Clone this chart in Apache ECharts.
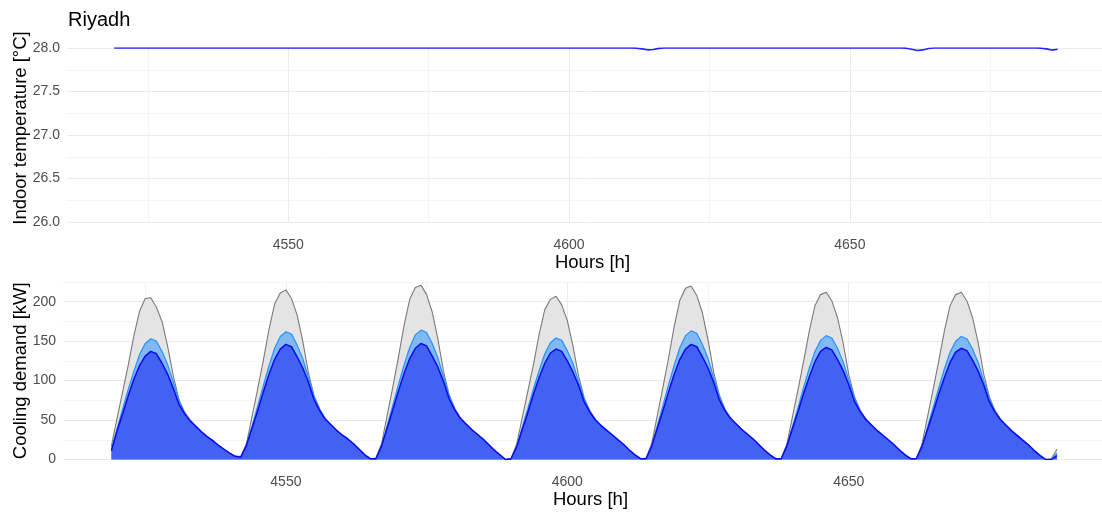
<!DOCTYPE html>
<html>
<head>
<meta charset="utf-8">
<script src="https://cdn.jsdelivr.net/npm/echarts@6/dist/echarts.min.js"></script>
<style>
  html, body { margin: 0; padding: 0; background: #ffffff; }
  #chart { width: 1102px; height: 518px; }
</style>
</head>
<body>
<div id="chart"></div>
<script>
// Hourly simulation output for Riyadh, hours 4519 .. 4687
const firstHour = 4519;

// Indoor air temperature [°C], twelve hours per row
const indoorTemp = [
  28, 28, 28, 28, 28, 28,   28, 28, 28, 28, 28, 28,          // 4519-4530
  28, 28, 28, 28, 28, 28,   28, 28, 28, 28, 28, 28,          // 4531-4542
  28, 28, 28, 28, 28, 28,   28, 28, 28, 28, 28, 28,          // 4543-4554
  28, 28, 28, 28, 28, 28,   28, 28, 28, 28, 28, 28,          // 4555-4566
  28, 28, 28, 28, 28, 28,   28, 28, 28, 28, 28, 28,          // 4567-4578
  28, 28, 28, 28, 28, 28,   28, 28, 28, 28, 28, 28,          // 4579-4590
  28, 28, 28, 28, 28, 28,   28, 28, 28, 28, 28, 28,          // 4591-4602
  28, 28, 28, 28, 28, 28,   28, 28, 28, 27.998, 27.99, 27.979, // 4603-4614
  27.982, 27.996, 28, 28, 28, 28,   28, 28, 28, 28, 28, 28,  // 4615-4626
  28, 28, 28, 28, 28, 28,   28, 28, 28, 28, 28, 28,          // 4627-4638
  28, 28, 28, 28, 28, 28,   28, 28, 28, 28, 28, 28,          // 4639-4650
  28, 28, 28, 28, 28, 28,   28, 28, 28, 27.998, 27.986, 27.972, // 4651-4662
  27.978, 27.995, 28, 28, 28, 28,   28, 28, 28, 28, 28, 28,  // 4663-4674
  28, 28, 28, 28, 28, 28,   28, 28, 28, 27.998, 27.99, 27.976, // 4675-4686
  27.985                                                     // 4687
];

// Cooling demand [kW] – three cases, drawn back to front
const coolingGrey = [
  17, 52, 86, 120, 157, 188, 204, 205, 193, 175, 143, 106, 76, 60, 50, 42, 35, 29, 24, 18, 13, 8,
  4, 4, 20, 55, 90, 126, 165, 197, 211, 215, 204, 183, 150, 110, 81, 64, 52, 44, 37, 31, 26, 20, 13, 6,
  1, 2, 20, 56, 92, 130, 170, 203, 218, 221, 209, 187, 153, 112, 82, 65, 53, 45, 38, 32, 26, 19, 12, 6,
  0, 1, 19, 53, 87, 121, 159, 190, 203, 207, 196, 176, 144, 106, 78, 62, 51, 43, 37, 31, 25, 19, 12, 6,
  1, 2, 20, 56, 92, 129, 169, 202, 217, 220, 208, 186, 152, 111, 82, 64, 53, 45, 38, 32, 26, 19, 12, 6,
  1, 1, 19, 54, 89, 125, 163, 195, 209, 212, 201, 180, 148, 108, 80, 63, 52, 44, 37, 31, 25, 19, 12, 6,
  1, 1, 19, 54, 89, 125, 163, 195, 209, 212, 201, 180, 148, 108, 79, 62, 51, 43, 36, 30, 24, 18, 11, 5,
  0, 1, 13
];
const coolingLight = [
  13, 39, 64, 89, 112, 133, 147, 153, 150, 137, 120, 98, 74, 59, 49, 42, 35, 29, 24, 18, 13, 8,
  4, 3, 19, 43, 68, 94, 119, 141, 156, 162, 159, 145, 128, 104, 80, 64, 51, 44, 37, 31, 26, 20, 13, 6,
  1, 1, 18, 43, 69, 95, 120, 142, 158, 164, 161, 147, 129, 105, 81, 64, 52, 45, 38, 32, 26, 19, 12, 6,
  0, 1, 17, 41, 65, 90, 113, 134, 148, 154, 151, 138, 122, 99, 77, 61, 50, 43, 37, 31, 25, 19, 12, 6,
  1, 1, 18, 43, 69, 95, 120, 142, 157, 163, 160, 146, 128, 104, 80, 63, 52, 45, 38, 32, 26, 19, 12, 6,
  1, 1, 18, 42, 66, 92, 116, 137, 151, 157, 154, 141, 124, 101, 78, 62, 51, 44, 37, 31, 25, 19, 12, 6,
  1, 1, 17, 41, 66, 91, 115, 136, 150, 156, 153, 140, 123, 100, 77, 61, 50, 43, 36, 30, 24, 18, 11, 5,
  0, 0, 8
];
const coolingBlue = [
  11, 36, 58, 81, 102, 119, 131, 137, 134, 122, 108, 90, 70, 58, 49, 42, 35, 29, 24, 18, 13, 8,
  4, 3, 18, 40, 62, 86, 108, 127, 140, 146, 143, 130, 116, 98, 76, 62, 51, 44, 37, 31, 26, 20, 13, 6,
  1, 1, 17, 40, 63, 87, 109, 128, 141, 147, 144, 131, 117, 99, 77, 63, 52, 45, 38, 32, 26, 19, 12, 6,
  0, 1, 16, 38, 60, 83, 104, 122, 135, 140, 137, 125, 111, 94, 73, 60, 50, 43, 37, 31, 25, 19, 12, 6,
  1, 1, 17, 40, 62, 86, 108, 127, 140, 146, 143, 130, 116, 98, 76, 62, 52, 45, 38, 32, 26, 19, 12, 6,
  1, 1, 17, 39, 61, 84, 105, 124, 137, 142, 139, 127, 113, 95, 74, 61, 51, 44, 37, 31, 25, 19, 12, 6,
  1, 1, 16, 38, 60, 83, 104, 123, 136, 141, 138, 126, 112, 94, 73, 60, 50, 43, 36, 30, 24, 18, 11, 5,
  0, 0, 5
];

// Axis ticks
const hourLabels = [4550, 4600, 4650];
const hourGrid = [4525, 4550, 4575, 4600, 4625, 4650, 4675];
const tempLabels = [26.0, 26.5, 27.0, 27.5, 28.0];
const coolingLabels = [0, 50, 100, 150, 200];

const FONT = '"Liberation Sans", Arial, sans-serif';
const MAJOR = '#ebebeb';
const MINOR = '#f4f4f4';
const TICK_SIZE = 14;
const TITLE_SIZE = 18.5;

const pairs = (vals) => vals.map((v, i) => [firstHour + i, v]);

function hourAxis(gridIndex, min, max, gap) {
  return {
    type: 'value', gridIndex, min, max,
    name: 'Hours [h]', nameLocation: 'middle', nameGap: gap,
    nameTextStyle: { color: '#000000', fontSize: TITLE_SIZE, fontFamily: FONT, padding: [0, 0, 0, 16] },
    axisLine: { show: false },
    axisTick: { show: false, customValues: hourGrid },
    axisLabel: {
      customValues: hourLabels, color: '#4d4d4d', fontSize: TICK_SIZE, fontFamily: FONT, margin: 16,
      formatter: (v) => String(Math.round(v))
    },
    splitLine: { show: true, lineStyle: { color: [MINOR, MAJOR], width: 1 } }
  };
}

const chart = echarts.init(document.getElementById('chart'), null, { renderer: 'canvas' });
chart.setOption({
  animation: false,
  backgroundColor: '#ffffff',
  title: {
    text: 'Riyadh', left: 63, top: 5,
    textStyle: { color: '#000000', fontSize: 20, fontWeight: 'normal', fontFamily: FONT }
  },
  grid: [
    { left: 67, right: 0, top: 48, height: 174, containLabel: false, outerBoundsMode: 'none' },
    { left: 63, right: 0, top: 282, height: 177.5, containLabel: false, outerBoundsMode: 'none' }
  ],
  xAxis: [
    hourAxis(0, 4510.6, 4694.9, 31),
    hourAxis(1, 4510.4, 4695.0, 28)
  ],
  yAxis: [
    {
      type: 'value', gridIndex: 0, min: 26, max: 28, interval: 0.25,
      name: 'Indoor temperature [°C]', nameLocation: 'middle', nameGap: 37, nameMoveOverlap: false,
      nameTextStyle: { color: '#000000', fontSize: TITLE_SIZE, fontFamily: FONT, padding: [0, 0, 0, 14] },
      axisLine: { show: false }, axisTick: { show: false },
      axisLabel: {
        color: '#4d4d4d', fontSize: TICK_SIZE, fontFamily: FONT, margin: 7,
        formatter: (v) => tempLabels.some(t => Math.abs(t - v) < 1e-6) ? v.toFixed(1) : ''
      },
      splitLine: { show: true, lineStyle: { color: [MAJOR, MINOR], width: 1 } }
    },
    {
      type: 'value', gridIndex: 1, min: 0, max: 225, interval: 25,
      name: 'Cooling demand [kW]', nameLocation: 'middle', nameGap: 33, nameMoveOverlap: false,
      nameTextStyle: { color: '#000000', fontSize: TITLE_SIZE, fontFamily: FONT },
      axisLine: { show: false }, axisTick: { show: false },
      axisLabel: {
        color: '#4d4d4d', fontSize: TICK_SIZE, fontFamily: FONT, margin: 7,
        formatter: (v) => coolingLabels.indexOf(v) >= 0 ? String(v) : ''
      },
      splitLine: { show: true, lineStyle: { color: [MAJOR, MINOR], width: 1 } }
    }
  ],
  series: [
    {
      type: 'line', xAxisIndex: 0, yAxisIndex: 0, data: pairs(indoorTemp),
      showSymbol: false, symbol: 'none',
      lineStyle: { color: '#2323ff', width: 1.6 }, z: 5
    },
    {
      type: 'line', xAxisIndex: 1, yAxisIndex: 1, data: pairs(coolingGrey),
      showSymbol: false, symbol: 'none',
      lineStyle: { color: '#7a7a7a', width: 1.1 },
      areaStyle: { color: '#e4e4e4', opacity: 1 }, z: 2
    },
    {
      type: 'line', xAxisIndex: 1, yAxisIndex: 1, data: pairs(coolingLight),
      showSymbol: false, symbol: 'none',
      lineStyle: { color: '#2592fb', width: 1.2 },
      areaStyle: { color: '#80b8f1', opacity: 1 }, z: 3
    },
    {
      type: 'line', xAxisIndex: 1, yAxisIndex: 1, data: pairs(coolingBlue),
      showSymbol: false, symbol: 'none',
      lineStyle: { color: '#0b0be8', width: 1.5 },
      areaStyle: { color: '#4361f2', opacity: 1 }, z: 4
    }
  ]
});
</script>
</body>
</html>
